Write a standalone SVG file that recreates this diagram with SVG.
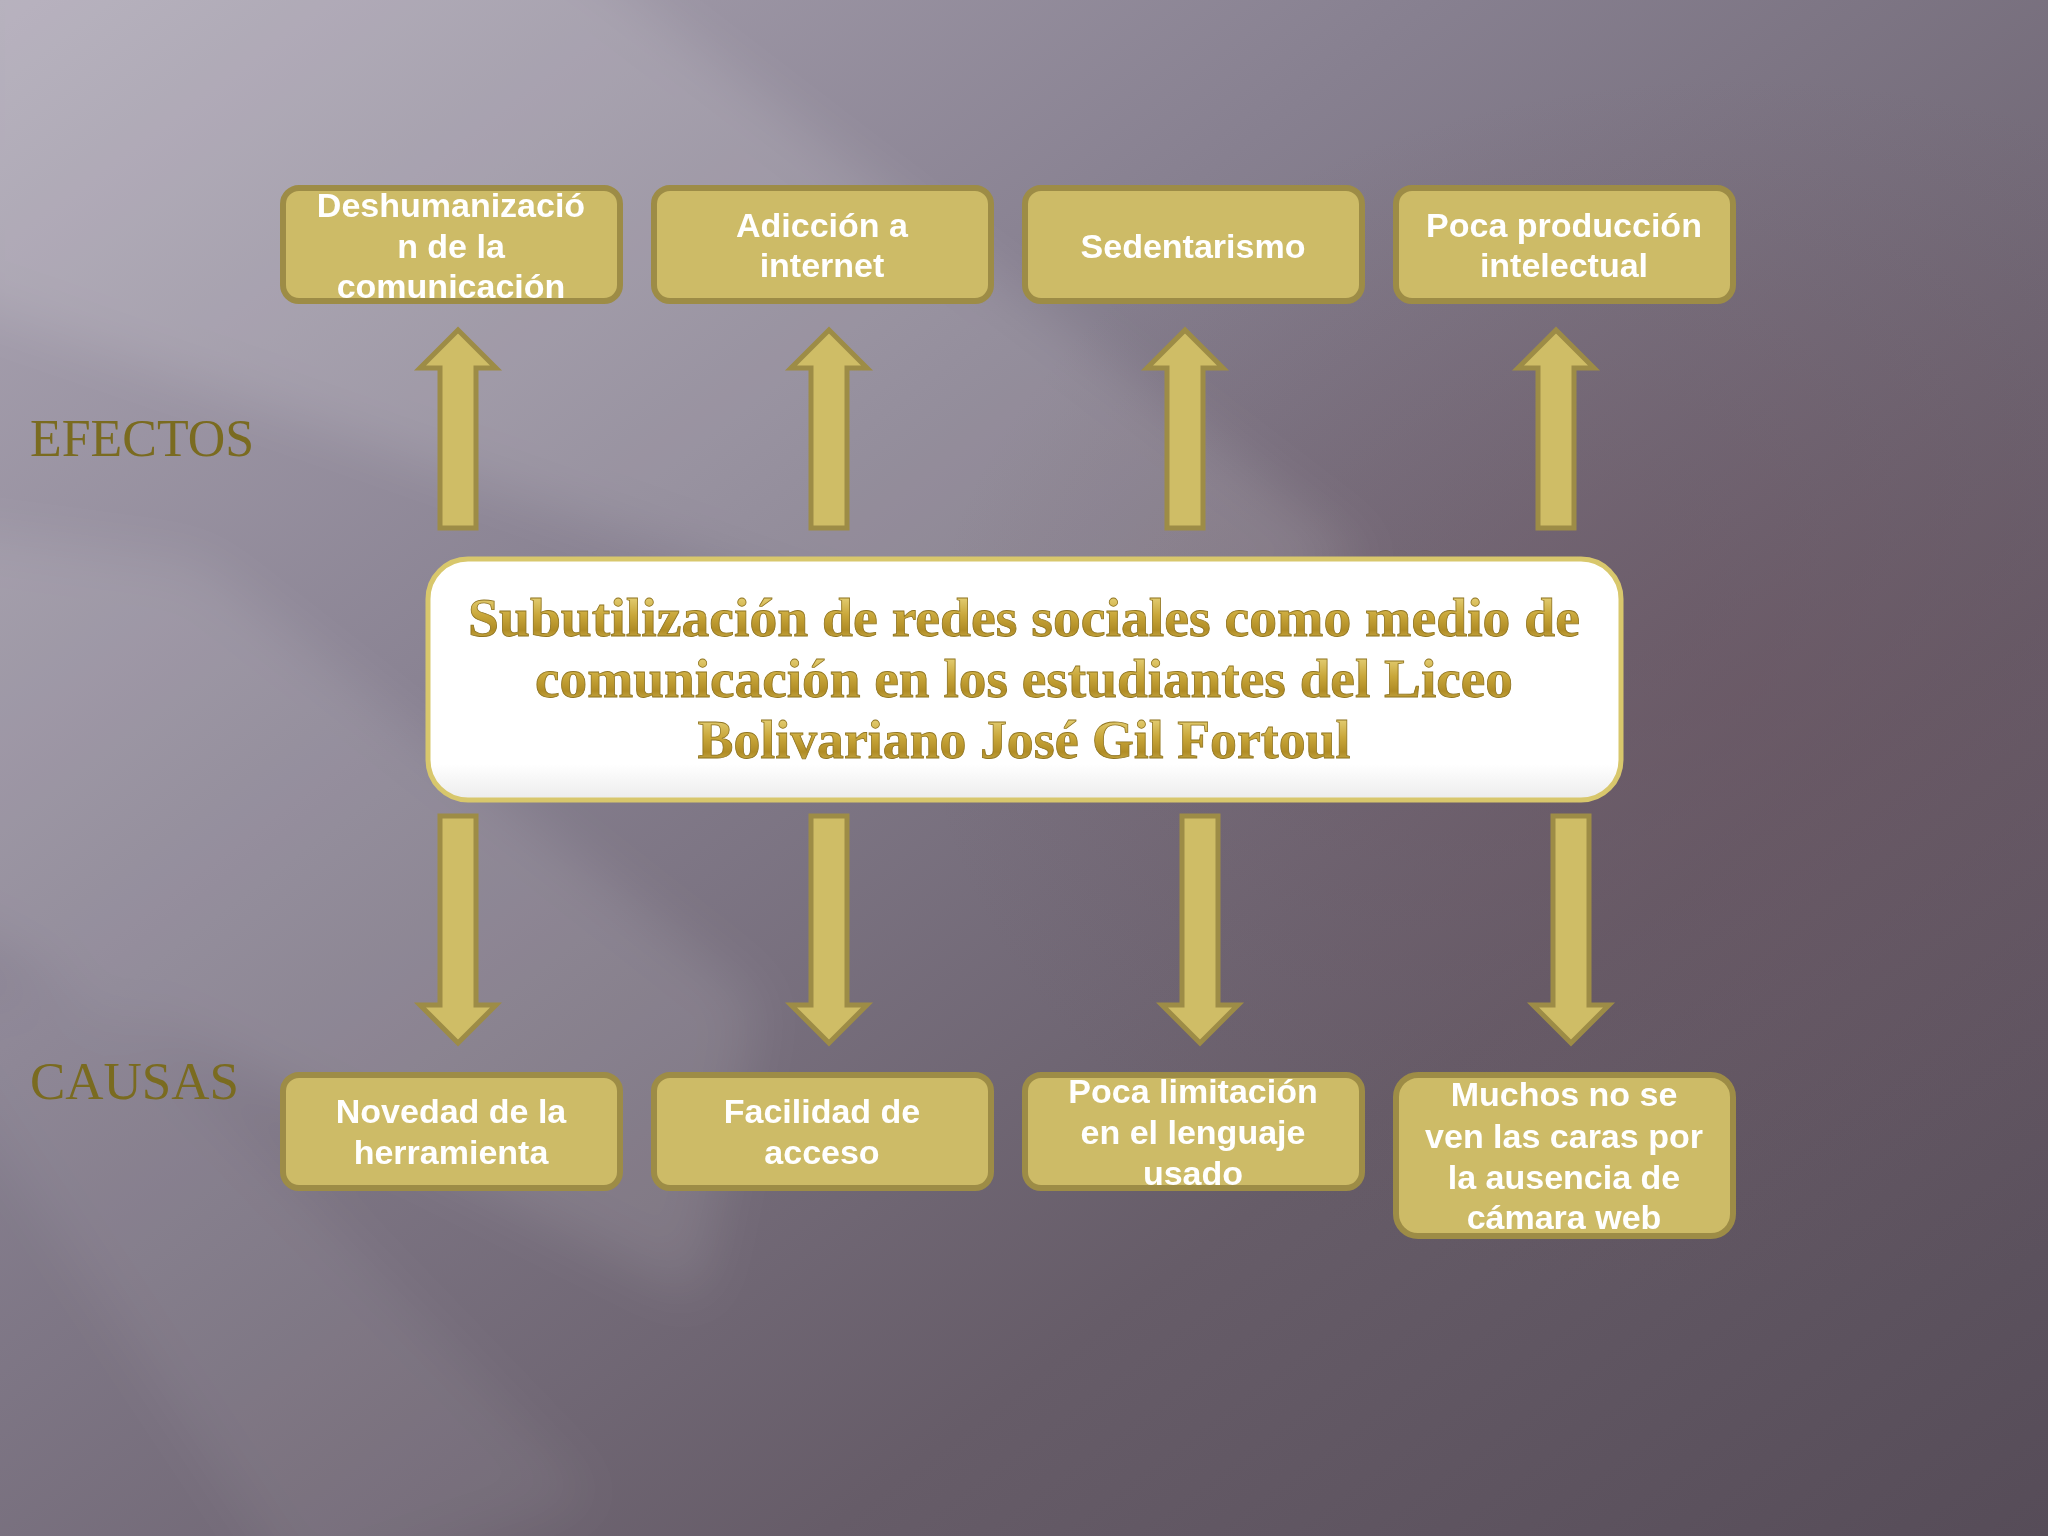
<svg xmlns="http://www.w3.org/2000/svg" width="2048" height="1536" viewBox="0 0 2048 1536">
<defs>
<linearGradient id="bg" x1="0" y1="0" x2="1" y2="1">
<stop offset="0" stop-color="#aea8b6"/>
<stop offset="0.35" stop-color="#878090"/>
<stop offset="0.7" stop-color="#665c68"/>
<stop offset="1" stop-color="#564c58"/>
</linearGradient>
<radialGradient id="tint" cx="0.85" cy="0.45" r="0.4">
<stop offset="0" stop-color="#6a5360" stop-opacity="0.5"/>
<stop offset="1" stop-color="#6a5360" stop-opacity="0"/>
</radialGradient>
<filter id="blur" x="-20%" y="-20%" width="140%" height="140%"><feGaussianBlur stdDeviation="28"/></filter>
<linearGradient id="gold" x1="0" y1="0" x2="0" y2="1">
<stop offset="0" stop-color="#f0e08e"/>
<stop offset="0.45" stop-color="#c9a73a"/>
<stop offset="0.7" stop-color="#b08c25"/>
<stop offset="1" stop-color="#e0c765"/>
</linearGradient>
<linearGradient id="mainfill" x1="0" y1="0" x2="0" y2="1">
<stop offset="0" stop-color="#ffffff"/>
<stop offset="0.85" stop-color="#ffffff"/>
<stop offset="1" stop-color="#ececec"/>
</linearGradient>
<path id="up" d="M0,0 L38,38 L18,38 L18,198 L-18,198 L-18,38 L-38,38 Z"/>
<path id="down" d="M-18,0 L18,0 L18,189 L38,189 L0,227 L-38,189 L-18,189 Z"/>
</defs>
<style>
.box{fill:#cdbb67;stroke:#9d8c46;stroke-width:6}
.bt{font-family:"Liberation Sans",Arial,sans-serif;font-weight:bold;font-size:34px;fill:#ffffff;text-anchor:middle}
.arrow{fill:#cfbd66;stroke:#9d8c46;stroke-width:5;stroke-linejoin:miter}
.lbl{font-family:"Liberation Serif","Times New Roman",serif;font-size:52px;fill:#7a6b20}
.title{font-family:"Liberation Serif","Times New Roman",serif;font-weight:bold;font-size:54px;fill:url(#gold);stroke:#8f7420;stroke-width:0.8;text-anchor:middle}
</style>
<rect width="2048" height="1536" fill="url(#bg)"/>
<rect width="2048" height="1536" fill="url(#tint)"/>
<g filter="url(#blur)" fill="#ffffff">
<polygon points="-50,-100 560,-60 1370,560 1100,700 300,420 -50,300" opacity="0.12"/>
<polygon points="-100,520 200,560 760,1000 700,1300 -100,900" opacity="0.10"/>
<polygon points="-100,1000 100,980 600,1500 300,1600" opacity="0.06"/>
</g>
<text class="lbl" x="30" y="456" textLength="224" lengthAdjust="spacingAndGlyphs">EFECTOS</text>
<text class="lbl" x="30" y="1099" textLength="209" lengthAdjust="spacingAndGlyphs">CAUSAS</text>
<g id="connectors">
<use href="#up" class="arrow" x="458" y="330"/>
<use href="#up" class="arrow" x="829" y="330"/>
<use href="#up" class="arrow" x="1185" y="330"/>
<use href="#up" class="arrow" x="1556" y="330"/>
<use href="#down" class="arrow" x="458" y="816"/>
<use href="#down" class="arrow" x="829" y="816"/>
<use href="#down" class="arrow" x="1200" y="816"/>
<use href="#down" class="arrow" x="1571" y="816"/>
</g>
<g id="main">
<rect x="428" y="559" width="1193" height="241" rx="40" fill="url(#mainfill)" stroke="#d8c76c" stroke-width="5"/>
<text class="title" x="1024" y="636" textLength="1112" lengthAdjust="spacingAndGlyphs">Subutilización de redes sociales como medio de</text>
<text class="title" x="1024" y="697" textLength="978" lengthAdjust="spacingAndGlyphs">comunicación en los estudiantes del Liceo</text>
<text class="title" x="1024" y="758" textLength="653" lengthAdjust="spacingAndGlyphs">Bolivariano José Gil Fortoul</text>
</g>
<g id="e1"><rect class="box" x="283" y="188" width="337" height="113" rx="16"/>
<text class="bt"><tspan x="451" y="217">Deshumanizació</tspan><tspan x="451" y="258">n de la</tspan><tspan x="451" y="298">comunicación</tspan></text></g>
<g id="e2"><rect class="box" x="654" y="188" width="337" height="113" rx="16"/>
<text class="bt"><tspan x="822" y="237">Adicción a</tspan><tspan x="822" y="277">internet</tspan></text></g>
<g id="e3"><rect class="box" x="1025" y="188" width="337" height="113" rx="16"/>
<text class="bt"><tspan x="1193" y="258">Sedentarismo</tspan></text></g>
<g id="e4"><rect class="box" x="1396" y="188" width="337" height="113" rx="16"/>
<text class="bt"><tspan x="1564" y="237">Poca producción</tspan><tspan x="1564" y="277">intelectual</tspan></text></g>
<g id="c1"><rect class="box" x="283" y="1075" width="337" height="113" rx="16"/>
<text class="bt"><tspan x="451" y="1123">Novedad de la</tspan><tspan x="451" y="1164">herramienta</tspan></text></g>
<g id="c2"><rect class="box" x="654" y="1075" width="337" height="113" rx="16"/>
<text class="bt"><tspan x="822" y="1123">Facilidad de</tspan><tspan x="822" y="1164">acceso</tspan></text></g>
<g id="c3"><rect class="box" x="1025" y="1075" width="337" height="113" rx="16"/>
<text class="bt"><tspan x="1193" y="1103">Poca limitación</tspan><tspan x="1193" y="1144">en el lenguaje</tspan><tspan x="1193" y="1185">usado</tspan></text></g>
<g id="c4"><rect class="box" x="1396" y="1075" width="337" height="161" rx="22"/>
<text class="bt"><tspan x="1564" y="1106">Muchos no se</tspan><tspan x="1564" y="1148">ven las caras por</tspan><tspan x="1564" y="1189">la ausencia de</tspan><tspan x="1564" y="1229">cámara web</tspan></text></g>
</svg>
